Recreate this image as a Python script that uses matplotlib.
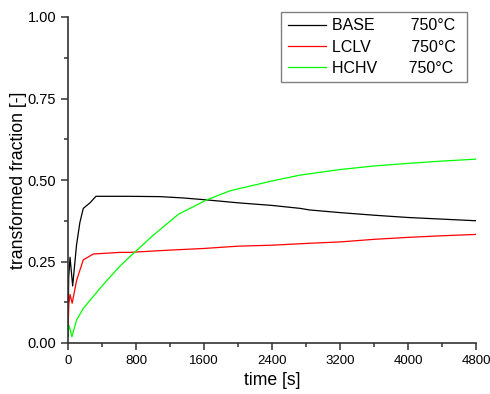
import numpy as np
import matplotlib
matplotlib.use("Agg")
from matplotlib import pyplot as plt
from matplotlib.ticker import MultipleLocator

plt.rcParams['font.family'] = ['Liberation Sans', 'DejaVu Sans']

# time [s] and transformed fraction
t_base = [0, 8, 24, 55, 100, 140, 180, 259, 329, 700, 1082, 1350, 1631, 2000, 2400,
          2729, 2847, 3200, 3600, 4000, 4400, 4800]
y_base = [0.02, 0.20, 0.263, 0.175, 0.30, 0.37, 0.413, 0.43, 0.45, 0.45, 0.449, 0.445,
          0.439, 0.43, 0.422, 0.413, 0.408, 0.40, 0.392, 0.385, 0.38, 0.375]

t_lclv = [0, 10, 24, 49, 102, 180, 298, 612, 729, 1200, 1600, 2000, 2400, 2847,
          3200, 3600, 4000, 4400, 4800]
y_lclv = [0.03, 0.12, 0.149, 0.122, 0.193, 0.255, 0.273, 0.278, 0.278, 0.285, 0.29,
          0.297, 0.30, 0.306, 0.31, 0.318, 0.324, 0.329, 0.333]

t_hchv = [0, 15, 46, 100, 180, 400, 612, 729, 1000, 1300, 1631, 1906, 2400, 2729,
          3200, 3600, 4000, 4400, 4800]
y_hchv = [0.03, 0.053, 0.019, 0.07, 0.106, 0.175, 0.236, 0.265, 0.33, 0.395, 0.439,
          0.467, 0.497, 0.515, 0.532, 0.543, 0.551, 0.558, 0.564]

labels = ["BASE        750°C ", "LCLV         750°C ", "HCHV       750°C "]

fig = plt.figure(figsize=(4.9, 3.94), dpi=100)
ax = fig.add_axes([68/490, 51/394, 408/490, 326/394])

ax.plot(t_base, y_base, color='black', lw=0.9, label=labels[0])
ax.plot(t_lclv, y_lclv, color='#ff0000', lw=0.9, label=labels[1])
ax.plot(t_hchv, y_hchv, color='#00ff00', lw=0.9, label=labels[2])

ax.set_xlim(0, 4800)
ax.set_ylim(0, 1)
ax.xaxis.set_major_locator(MultipleLocator(800))
ax.xaxis.set_minor_locator(MultipleLocator(400))
ax.yaxis.set_major_locator(MultipleLocator(0.25))
ax.yaxis.set_minor_locator(MultipleLocator(0.125))
ax.yaxis.set_major_formatter(plt.FormatStrFormatter('%.2f'))

for s in ['top', 'right']:
    ax.spines[s].set_visible(False)
for s in ['left', 'bottom']:
    ax.spines[s].set_linewidth(1.2)
    ax.spines[s].set_color('#333333')
ax.tick_params(which='major', length=5, width=1.1, color='#333333')
ax.tick_params(which='minor', length=3, width=1.1, color='#333333')
ax.tick_params(axis='y', labelsize=10.5)
ax.tick_params(axis='x', labelsize=9.5)

ax.set_xlabel('time [s]', fontsize=12.7, labelpad=4)
ax.set_ylabel('transformed fraction [-]', fontsize=12.7, labelpad=0)

leg = ax.legend(loc='upper right', bbox_to_anchor=(0.978, 1.015), borderaxespad=0,
                fontsize=11.5, fancybox=False, edgecolor='#808080', framealpha=1,
                handlelength=2.4, handletextpad=0.4, borderpad=0.4, labelspacing=0.39)
leg.get_frame().set_linewidth(1.0)

fig.savefig('out.png', dpi=100)
